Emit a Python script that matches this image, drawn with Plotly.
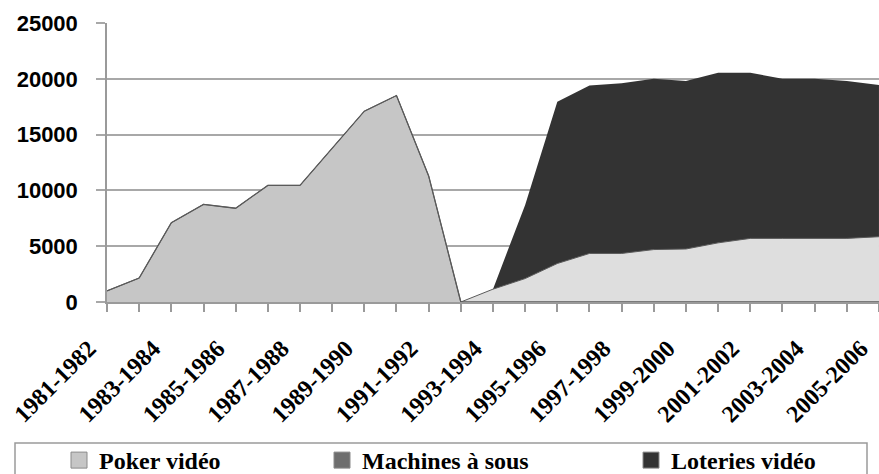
import plotly.graph_objects as go

# Seasons (fiscal years) on the category axis
seasons = [
    "1981-1982", "1982-1983", "1983-1984", "1984-1985", "1985-1986",
    "1986-1987", "1987-1988", "1988-1989", "1989-1990", "1990-1991",
    "1991-1992", "1992-1993", "1993-1994", "1994-1995", "1995-1996",
    "1996-1997", "1997-1998", "1998-1999", "1999-2000", "2000-2001",
    "2001-2002", "2002-2003", "2003-2004", "2004-2005", "2005-2006",
]

# Number of machines per category
poker_video = [1000, 2150, 7100, 8750, 8400, 10450, 10450, 13800, 17100, 18500,
               11300, 0, 0, 0, 0, 0, 0, 0, 0, 0, 0, 0, 0, 0, 0]
machines_a_sous = [0, 0, 0, 0, 0, 0, 0, 0, 0, 0, 0, 0,
                   1150, 2100, 3450, 4350, 4350, 4700, 4750, 5300, 5700, 5700, 5700, 5700, 5850]
loteries_video = [0, 0, 0, 0, 0, 0, 0, 0, 0, 0, 0, 0, 0,
                  6600, 14500, 15050, 15250, 15300, 15050, 15250, 14850, 14300, 14300, 14100, 13600]

y_ticks = [0, 5000, 10000, 15000, 20000, 25000]
y_tick_labels = ["0", "5000", "10000", "15000", "20000", "25000"]

series_names = ["Poker vidéo", "Machines à sous", "Loteries vidéo"]
area_colors = ["#c6c6c6", "#dedede", "#333333"]
legend_colors = ["#c6c6c6", "#6e6e6e", "#333333"]

# Figure geometry (pixels)
W, H = 879, 474
ML, MR, MT, MB = 107, 0, 23, 172
PW = W - ML - MR
PH = H - MT - MB


def px_x(p):
    return (p - ML) / PW


def px_y(p):
    return (H - MB - p) / PH


idx = list(range(len(seasons)))
fig = go.Figure()

fig.add_trace(go.Scatter(
    x=idx, y=poker_video, name=series_names[0], stackgroup="s", mode="lines",
    fillcolor=area_colors[0], line=dict(color="#5a5a5a", width=1.3),
    showlegend=False, hoverinfo="skip"))
fig.add_trace(go.Scatter(
    x=idx, y=machines_a_sous, name=series_names[1], stackgroup="s", mode="lines",
    fillcolor=area_colors[1], line=dict(color="#5a5a5a", width=1.0),
    showlegend=False, hoverinfo="skip"))
fig.add_trace(go.Scatter(
    x=idx, y=loteries_video, name=series_names[2], stackgroup="s", mode="lines",
    fillcolor=area_colors[2], line=dict(color="#333333", width=0),
    showlegend=False, hoverinfo="skip"))

# Square swatches for the legend, one legend per entry
legend_ids = ["legend", "legend2", "legend3"]
for name, col, lid in zip(series_names, legend_colors, legend_ids):
    fig.add_trace(go.Scatter(
        x=[None], y=[None], mode="markers", name=name, legend=lid,
        marker=dict(symbol="square", size=16, color=col,
                    line=dict(color="#8a8a8a", width=1))))

legend_font = dict(family="Liberation Serif", size=24, color="black", weight="bold")
legend_left_px = [59, 322, 631]
legend_top = px_y(438)
for lid, lx in zip(legend_ids, legend_left_px):
    fig.layout[lid] = dict(
        x=px_x(lx), y=legend_top, xanchor="left", yanchor="top",
        orientation="h", bgcolor="rgba(0,0,0,0)", borderwidth=0,
        font=legend_font, itemsizing="trace")

# Legend frame
fig.add_shape(type="rect", xref="paper", yref="paper",
              x0=px_x(15), x1=px_x(867), y0=px_y(443), y1=px_y(500),
              line=dict(color="#9a9a9a", width=1.5), fillcolor="rgba(0,0,0,0)",
              layer="below")

fig.update_xaxes(
    range=[0, len(seasons) - 1 + 0.001],
    tickmode="array", tickvals=idx[::2], ticktext=seasons[::2],
    tickangle=-45,
    tickfont=dict(family="Liberation Serif", size=24, color="black", weight="bold"),
    ticks="outside", ticklen=8, tickcolor="#9a9a9a", tickwidth=1.5,
    minor=dict(dtick=1, tick0=0, ticks="outside", ticklen=8,
               tickcolor="#9a9a9a", tickwidth=1.5, showgrid=False),
    showline=True, linecolor="#9a9a9a", linewidth=2,
    showgrid=False, zeroline=False, automargin=False,
    ticklabelstandoff=13, ticklabelshift=-18,
    ticklabeloverflow="allow",
)
fig.update_yaxes(
    range=[0, 25000], tickmode="array", tickvals=y_ticks, ticktext=y_tick_labels,
    tickfont=dict(family="Liberation Sans", size=22, color="black", weight="bold"),
    ticks="outside", ticklen=9, tickcolor="#a8a8a8", tickwidth=2,
    showline=True, linecolor="#9a9a9a", linewidth=1.5,
    showgrid=True, gridcolor="#a8a8a8", gridwidth=2,
    zeroline=False, ticklabelstandoff=14, automargin=False,
)

fig.update_layout(
    width=W, height=H,
    margin=dict(l=ML, r=MR, t=MT, b=MB, pad=0, autoexpand=False),
    paper_bgcolor="white", plot_bgcolor="white",
    showlegend=True,
)

fig.write_html("out.html")
